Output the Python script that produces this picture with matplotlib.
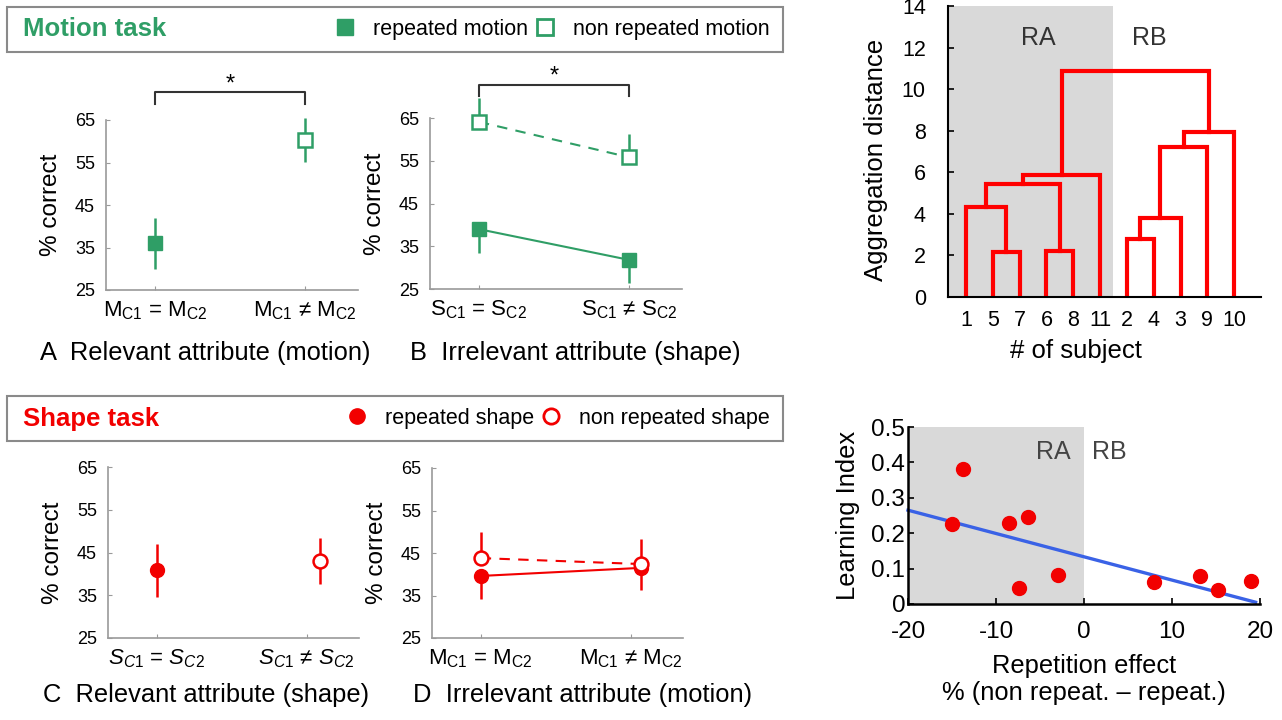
import numpy as np
import matplotlib
matplotlib.use('Agg')
import matplotlib.pyplot as plt
from matplotlib.lines import Line2D
from matplotlib.patches import Rectangle

# fonts: Helvetica-like look
plt.rcParams['font.family'] = ['Liberation Sans', 'DejaVu Sans']
plt.rcParams['mathtext.fontset'] = 'custom'
plt.rcParams['mathtext.rm'] = 'Liberation Sans'
plt.rcParams['mathtext.it'] = 'Liberation Sans:italic'
plt.rcParams['axes.unicode_minus'] = False

GREEN = '#2f9e66'
RED = '#f20000'
BLUE = '#3a62e6'
SHADE = '#d9d9d9'
AXGRAY = '#9a9a9a'

# ---- data ----
pct_ticks = [25, 35, 45, 55, 65]

# A: motion task, relevant attribute (motion)
a_rep, a_rep_err = [36.0], [6.0]
a_non, a_non_err = [60.3], [5.2]
a_labels = [r'M$_{\rm C1}$ = M$_{\rm C2}$', r'M$_{\rm C1}$ ≠ M$_{\rm C2}$']

# B: motion task, irrelevant attribute (shape)
b_rep, b_rep_err_lo = [39.0, 31.8], [5.6, 5.4]
b_non, b_non_err_hi = [64.1, 55.8], [5.6, 5.5]
b_labels = [r'S$_{\rm C1}$ = S$_{\rm C2}$', r'S$_{\rm C1}$ ≠ S$_{\rm C2}$']

# C: shape task, relevant attribute (shape)
c_rep, c_rep_err = [40.8], [6.2]
c_non, c_non_err = [43.0], [5.3]
c_labels = [r'$\it{S}$$_{\it{C1}}$ = $\it{S}$$_{\it{C2}}$',
            r'$\it{S}$$_{\it{C1}}$ ≠ $\it{S}$$_{\it{C2}}$']

# D: shape task, irrelevant attribute (motion)
d_rep, d_rep_err_lo = [39.6, 41.5], [5.4, 5.2]
d_non, d_non_err_hi = [43.8, 42.4], [6.2, 5.9]
d_labels = a_labels

# dendrogram (subject numbers 1..11, merged clusters numbered from 12)
leaf_order = [1, 5, 7, 6, 8, 11, 2, 4, 3, 9, 10]
linkage = [
    (5, 7, 2.15),
    (6, 8, 2.2),
    (1, 12, 4.35),
    (14, 13, 5.45),
    (15, 11, 5.85),
    (2, 4, 2.8),
    (17, 3, 3.8),
    (18, 9, 7.2),
    (19, 10, 7.95),
    (16, 20, 10.85),
]
dend_yticks = [0, 2, 4, 6, 8, 10, 12, 14]

# learning index vs repetition effect
rep_effect = [-15.0, -13.8, -8.5, -6.4, -7.4, -3.0, 7.9, 13.2, 15.2, 19.0]
learn_idx = [0.225, 0.38, 0.23, 0.245, 0.045, 0.082, 0.062, 0.079, 0.04, 0.066]
fit_x = [-20, 19.5]
fit_y = [0.265, 0.005]
sc_xticks = [-20, -10, 0, 10, 20]
sc_yticks = [0, 0.1, 0.2, 0.3, 0.4, 0.5]
sc_yticklabels = ['0', '0.1', '0.2', '0.3', '0.4', '0.5']

# ---- figure ----
W, H = 1282, 720
fig = plt.figure(figsize=(W / 100, H / 100), dpi=100)


def px_axes(left, top, right, bottom):
    return fig.add_axes([left / W, 1 - bottom / H, (right - left) / W,
                         (bottom - top) / H])


def style_panel(ax, xlabels):
    ax.set_xlim(0.675, 2.35)
    ax.set_ylim(25, 65)
    ax.set_yticks(pct_ticks)
    ax.set_xticks([1, 2])
    ax.set_xticklabels(xlabels)
    for s in ['top', 'right']:
        ax.spines[s].set_visible(False)
    for s in ['left', 'bottom']:
        ax.spines[s].set_color(AXGRAY)
        ax.spines[s].set_linewidth(1.2)
    ax.tick_params(direction='in', length=3, color=AXGRAY)
    ax.tick_params(axis='y', pad=8, labelsize=13)
    ax.tick_params(axis='x', pad=7, labelsize=16)
    ax.set_ylabel('% correct', fontsize=17.5, labelpad=9)


def err(ax, x, lo, hi, color):
    ax.vlines(x, lo, hi, color=color, lw=1.8, clip_on=False, zorder=2)


def bracket(ax, leg, top, star):
    ax.plot([1, 1, 2, 2], [leg, top, top, leg], color='#333333', lw=1.5,
            clip_on=False)
    ax.text(1.5, star, '*', ha='center', va='center', fontsize=17,
            clip_on=False)


sq = dict(marker='s', ms=10, ls='none', zorder=3, clip_on=False)
ci = dict(marker='o', ms=10, ls='none', zorder=3, clip_on=False)

# A
axA = px_axes(106, 120, 358, 290)
style_panel(axA, a_labels)
err(axA, [1], np.array(a_rep) - a_rep_err, np.array(a_rep) + a_rep_err, GREEN)
err(axA, [2], np.array(a_non) - a_non_err, np.array(a_non) + a_non_err, GREEN)
axA.plot([1], a_rep, color=GREEN, **sq)
axA.plot([2], a_non, color=GREEN, mfc='white', mew=1.8, **sq)
bracket(axA, 68.8, 71.6, 73.4)

# B
axB = px_axes(430, 118, 682, 289)
style_panel(axB, b_labels)
bx = [1, 2]
axB.plot(bx, b_rep, color=GREEN, lw=1.5, zorder=1)
axB.plot(bx, b_non, color=GREEN, lw=1.5, ls='--', dashes=(5, 4), zorder=1)
err(axB, bx, np.array(b_rep) - b_rep_err_lo, b_rep, GREEN)
err(axB, bx, b_non, np.array(b_non) + b_non_err_hi, GREEN)
axB.plot(bx, b_rep, color=GREEN, **sq)
axB.plot(bx, b_non, color=GREEN, mfc='white', mew=1.8, **sq)
bracket(axB, 70.1, 72.7, 74.6)

# C
axC = px_axes(108, 467, 359, 638)
style_panel(axC, c_labels)
err(axC, [1], np.array(c_rep) - c_rep_err, np.array(c_rep) + c_rep_err, RED)
err(axC, [2.09], np.array(c_non) - c_non_err, np.array(c_non) + c_non_err, RED)
axC.plot([1], c_rep, color=RED, **ci)
axC.plot([2.09], c_non, color=RED, mfc='white', mew=1.8, **ci)

# D
axD = px_axes(432, 468, 683, 638)
style_panel(axD, d_labels)
dx = [1, 2.07]
axD.plot(dx, d_rep, color=RED, lw=1.5, zorder=1)
axD.plot(dx, d_non, color=RED, lw=1.5, ls='--', dashes=(5, 4), zorder=1)
err(axD, dx, np.array(d_rep) - d_rep_err_lo, d_rep, RED)
err(axD, dx, d_non, np.array(d_non) + d_non_err_hi, RED)
axD.plot(dx, d_rep, color=RED, **ci)
axD.plot(dx, d_non, color=RED, mfc='white', mew=1.8, **ci)

# panel captions
fig.text(40 / W, 1 - 353 / H, 'A  Relevant attribute (motion)', fontsize=18.4,
         va='center')
fig.text(410 / W, 1 - 353 / H, 'B  Irrelevant attribute (shape)', fontsize=18.4,
         va='center')
fig.text(43 / W, 1 - 695 / H, 'C  Relevant attribute (shape)', fontsize=18.4,
         va='center')
fig.text(413 / W, 1 - 695 / H, 'D  Irrelevant attribute (motion)', fontsize=18.4,
         va='center')

# legend boxes
for top in (7, 396):
    fig.add_artist(Rectangle((7 / W, 1 - (top + 45) / H), 776 / W, 45 / H,
                             transform=fig.transFigure, fill=False,
                             ec='#8a8a8a', lw=1.5))
fig.text(23 / W, 1 - 29.5 / H, 'Motion task', color=GREEN, fontsize=18.5,
         fontweight='bold', va='center')
fig.text(23 / W, 1 - 418.5 / H, 'Shape task', color=RED, fontsize=18.5,
         fontweight='bold', va='center')

h_motion = [Line2D([], [], marker='s', ls='none', ms=11, color=GREEN),
            Line2D([], [], marker='s', ls='none', ms=11, color=GREEN,
                   mfc='white', mew=2)]
h_shape = [Line2D([], [], marker='o', ls='none', ms=11, color=RED),
           Line2D([], [], marker='o', ls='none', ms=11, color=RED,
                  mfc='white', mew=2)]
leg_kw = dict(ncol=2, frameon=False, fontsize=15.5, handlelength=1.0,
              handletextpad=0.8, columnspacing=0.3, borderpad=0,
              borderaxespad=0, loc='center right')
fig.legend(h_motion, ['repeated motion', 'non repeated motion'],
           bbox_to_anchor=(770 / W, 1 - 29.5 / H), **leg_kw)
fig.legend(h_shape, ['repeated shape', 'non repeated shape'],
           bbox_to_anchor=(770 / W, 1 - 418.5 / H), **leg_kw)

# dendrogram
axE = px_axes(948, 6, 1261, 297)
axE.set_xlim(0.33, 12)
axE.set_ylim(0, 14)
axE.axvspan(0.33, 6.5, color=SHADE, lw=0, zorder=0)
pos = {s: i + 1 for i, s in enumerate(leaf_order)}
hgt = {s: 0.0 for s in leaf_order}
node = 12
for a, b, h in linkage:
    axE.plot([pos[a], pos[a], pos[b], pos[b]], [hgt[a], h, h, hgt[b]],
             color='#ff0000', lw=3, solid_joinstyle='miter', zorder=2)
    pos[node] = (pos[a] + pos[b]) / 2
    hgt[node] = h
    node += 1
axE.set_xticks(range(1, len(leaf_order) + 1))
axE.set_xticklabels([str(s) for s in leaf_order])
axE.set_yticks(dend_yticks)
for s in ['top', 'right']:
    axE.spines[s].set_visible(False)
for s in ['left', 'bottom']:
    axE.spines[s].set_linewidth(1.5)
axE.tick_params(direction='in', length=4, width=1.2, labelsize=15.5)
axE.tick_params(axis='y', pad=16)
axE.tick_params(axis='x', pad=9, length=0)
axE.set_ylabel('Aggregation distance', fontsize=18.5, labelpad=10, y=0.47)
axE.set_xlabel('# of subject', fontsize=18.5, labelpad=6, x=0.41)
axE.text(3.68, 12.45, 'RA', ha='center', va='center', fontsize=18,
         color='#333333')
axE.text(7.84, 12.45, 'RB', ha='center', va='center', fontsize=18,
         color='#333333')

# scatter
axF = px_axes(908, 427, 1260, 604)
axF.set_xlim(-20, 20)
axF.set_ylim(0, 0.5)
axF.axvspan(-20, 0, color=SHADE, lw=0, zorder=0)
axF.plot(fit_x, fit_y, color=BLUE, lw=2.4, zorder=2, clip_on=False)
axF.plot(rep_effect, learn_idx, 'o', color=RED, ms=10, zorder=3)
axF.set_xticks(sc_xticks)
axF.set_yticks(sc_yticks)
axF.set_yticklabels(sc_yticklabels)
for s in ['top', 'right']:
    axF.spines[s].set_visible(False)
for s in ['left', 'bottom']:
    axF.spines[s].set_linewidth(1.8)
axF.tick_params(direction='in', length=4, width=1.2, labelsize=17.5)
axF.tick_params(axis='y', pad=2)
axF.tick_params(axis='x', pad=12)
axF.set_ylabel('Learning Index', fontsize=18.4, labelpad=8)
axF.set_xlabel('Repetition effect\n% (non repeat. – repeat.)', fontsize=18.4,
               labelpad=8, linespacing=1.15)
axF.text(-3.5, 0.43, 'RA', ha='center', va='center', fontsize=18,
         color='#444444')
axF.text(2.9, 0.43, 'RB', ha='center', va='center', fontsize=18,
         color='#444444')

fig.savefig('out.png', dpi=100)
